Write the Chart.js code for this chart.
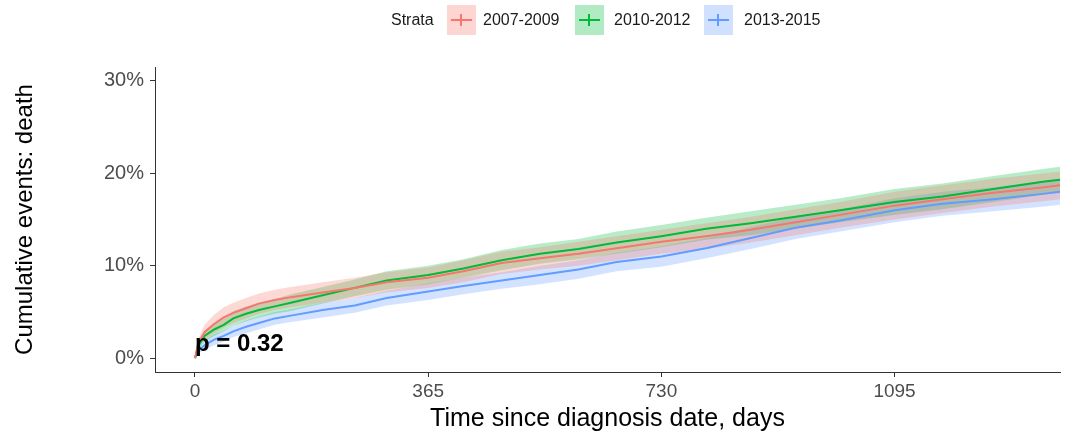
<!DOCTYPE html>
<html lang="en">
<head>
  <meta charset="UTF-8">
  <title>Cumulative events</title>
  <script src="https://cdn.jsdelivr.net/npm/chart.js"></script>
  <style>
    body { margin: 0; background: #fff; font-family: "Liberation Sans", Arial, sans-serif; }
    .wrap { position: relative; width: 1066px; height: 436px; }
    canvas { position: absolute; left: 0; top: 0; }
    .legend { position: absolute; top: 5px; left: 0; height: 30px; width: 1066px; font-size: 16px; color: #1a1a1a; }
    .legend span { position: absolute; line-height: 30px; }
    .key { position: absolute; width: 29px; height: 30px; }
    .key::before { content: ""; position: absolute; left: 4px; right: 4px; top: 14px; height: 2px; background: var(--c); }
    .key::after { content: ""; position: absolute; left: 13px; width: 2px; top: 9px; height: 12px; background: var(--c); }
  </style>
</head>
<body>
  <div class="wrap">
    <canvas id="grafico" width="1066" height="436"></canvas>
    <!-- legenda -->
    <div class="legend">
      <span style="left:391px">Strata</span>
      <div class="key" style="left:447px; background:rgba(248,118,109,0.3); --c:#F8766D"></div>
      <span style="left:483px">2007-2009</span>
      <div class="key" style="left:575px; background:rgba(0,186,56,0.3); --c:#00BA38"></div>
      <span style="left:614px">2010-2012</span>
      <div class="key" style="left:704px; background:rgba(97,156,255,0.3); --c:#619CFF"></div>
      <span style="left:744px">2013-2015</span>
    </div>
  </div>

<script>
  // dados (dias, % acumulado)
  const dias = [0, 5, 15, 30, 45, 60, 80, 100, 125, 150, 200, 250, 300, 365, 420, 480, 540, 600, 660, 730, 800, 870, 940, 1010, 1095, 1170, 1250, 1330, 1354];
  const estrato0709 = [0, 1.6, 2.8, 3.7, 4.4, 4.9, 5.4, 5.9, 6.3, 6.6, 7.1, 7.6, 8.2, 8.7, 9.4, 10.3, 10.8, 11.3, 11.9, 12.6, 13.2, 13.9, 14.7, 15.5, 16.5, 17.2, 17.9, 18.5, 18.7];
  const estrato1012 = [0, 1.3, 2.4, 3.1, 3.6, 4.3, 4.8, 5.2, 5.6, 6.0, 6.8, 7.6, 8.4, 9.0, 9.7, 10.6, 11.3, 11.8, 12.5, 13.2, 14.0, 14.6, 15.3, 16.0, 16.9, 17.5, 18.3, 19.1, 19.3];
  const estrato1315 = [0, 0.8, 1.4, 2.0, 2.4, 2.9, 3.4, 3.8, 4.3, 4.6, 5.2, 5.7, 6.5, 7.2, 7.8, 8.4, 9.0, 9.6, 10.4, 11.0, 11.9, 13.0, 14.1, 14.9, 16.0, 16.7, 17.2, 17.8, 18.0];
  // meia largura do intervalo de confianca
  const ic0709 = [0, 0.5, 0.8, 1.0, 1.1, 1.1, 1.1, 1.1, 1.1, 1.1, 1.1, 1.1, 1.1, 1.1, 1.2, 1.2, 1.2, 1.3, 1.3, 1.3, 1.4, 1.4, 1.4, 1.4, 1.5, 1.5, 1.5, 1.5, 1.5];
  const ic1012 = [0, 0.4, 0.6, 0.7, 0.7, 0.8, 0.8, 0.8, 0.8, 0.9, 0.9, 0.9, 1.0, 1.0, 1.0, 1.1, 1.1, 1.1, 1.2, 1.2, 1.2, 1.3, 1.3, 1.3, 1.4, 1.4, 1.4, 1.4, 1.4];
  const ic1315 = [0, 0.3, 0.5, 0.6, 0.6, 0.6, 0.7, 0.7, 0.7, 0.7, 0.8, 0.8, 0.8, 0.9, 0.9, 0.9, 1.0, 1.0, 1.0, 1.1, 1.1, 1.2, 1.2, 1.2, 1.3, 1.3, 1.3, 1.4, 1.4];
  const ticksX = [0, 365, 730, 1095];
  const ticksY = [0, 10, 20, 30];

  const grupos = [
    { nome: '2007-2009', valores: estrato0709, ic: ic0709, cor: '#F8766D', faixa: 'rgba(248,118,109,0.28)' },
    { nome: '2010-2012', valores: estrato1012, ic: ic1012, cor: '#00BA38', faixa: 'rgba(0,186,56,0.28)' },
    { nome: '2013-2015', valores: estrato1315, ic: ic1315, cor: '#619CFF', faixa: 'rgba(97,156,255,0.28)' }
  ];

  const pontos = (vals) => dias.map((d, i) => ({ x: d, y: vals[i] }));

  const datasets = [];
  grupos.forEach(g => {
    datasets.push({
      label: g.nome + ' inf',
      data: pontos(g.valores.map((v, i) => v - g.ic[i])),
      borderWidth: 0, borderColor: 'transparent', pointRadius: 0, fill: false, order: 3
    });
    datasets.push({
      label: g.nome + ' sup',
      data: pontos(g.valores.map((v, i) => v + g.ic[i])),
      borderWidth: 0, borderColor: 'transparent', pointRadius: 0,
      fill: '-1', backgroundColor: g.faixa, order: 3
    });
  });
  grupos.forEach(g => {
    datasets.push({
      label: g.nome,
      data: pontos(g.valores),
      borderColor: g.cor, borderWidth: 2, pointRadius: 0, fill: false, order: 1
    });
  });

  const textoP = {
    id: 'textoP',
    afterDatasetsDraw(chart) {
      const ctx = chart.ctx;
      const x = chart.scales.x.getPixelForValue(0);
      const y = chart.scales.y.getPixelForValue(1.5);
      ctx.save();
      ctx.font = 'bold 24px "Liberation Sans", Arial, sans-serif';
      ctx.fillStyle = '#000';
      ctx.textBaseline = 'middle';
      ctx.fillText('p = 0.32', x, y);
      ctx.restore();
    }
  };

  new Chart(document.getElementById('grafico'), {
    type: 'line',
    data: { datasets: datasets },
    plugins: [textoP],
    options: {
      responsive: false,
      animation: false,
      layout: { padding: { top: 67, right: 6, left: 0, bottom: 0 } },
      plugins: { legend: { display: false }, tooltip: { enabled: false } },
      scales: {
        x: {
          type: 'linear', min: -62.6, max: 1354,
          afterBuildTicks: s => { s.ticks = ticksX.map(v => ({ value: v })); },
          afterFit: s => { s.height = 64; },
          ticks: { color: '#4d4d4d', font: { size: 19, family: '"Liberation Sans", Arial' }, padding: 3, maxRotation: 0,
                   callback: v => String(v) },
          grid: { drawOnChartArea: false, drawTicks: true, tickLength: 5, color: '#333' },
          border: { display: true, color: '#333', width: 1 },
          title: { display: true, text: 'Time since diagnosis date, days', color: '#000',
                   font: { size: 25, family: '"Liberation Sans", Arial' }, padding: { top: 4, bottom: 2 } }
        },
        y: {
          min: -1.5, max: 31.5,
          afterBuildTicks: s => { s.ticks = ticksY.map(v => ({ value: v })); },
          afterFit: s => { s.width = 155; },
          ticks: { color: '#4d4d4d', font: { size: 20, family: '"Liberation Sans", Arial' }, padding: 6,
                   callback: v => v + '%' },
          grid: { drawOnChartArea: false, drawTicks: true, tickLength: 5, color: '#333' },
          border: { display: true, color: '#333', width: 1 },
          title: { display: true, text: 'Cumulative events: death', color: '#000',
                   font: { size: 24, family: '"Liberation Sans", Arial' }, padding: { top: 11, bottom: 4 } }
        }
      }
    }
  });
</script>
</body>
</html>
